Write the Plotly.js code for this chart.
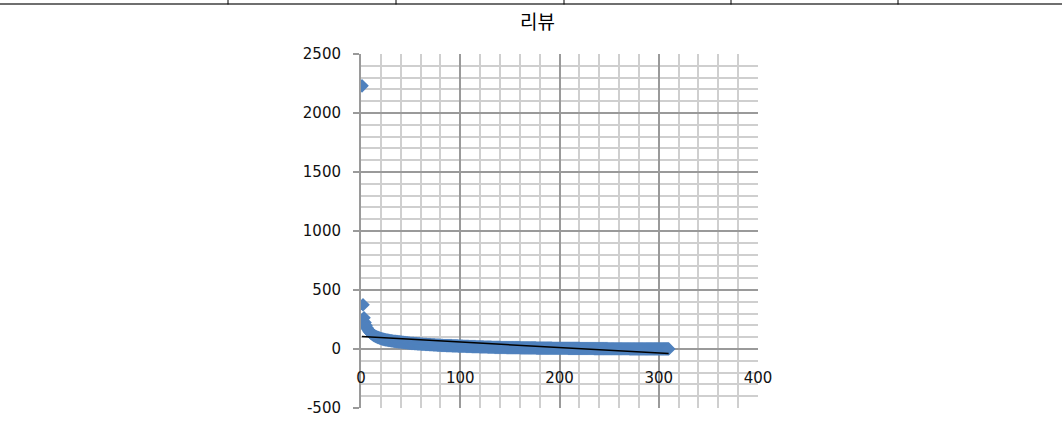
<!DOCTYPE html>
<html>
<head>
<meta charset="utf-8">
<script src="https://cdn.plot.ly/plotly-3.0.1.min.js"></script>
<style>
  html, body { margin: 0; padding: 0; background: #ffffff; }
  #chart { width: 1062px; height: 421px; }
</style>
</head>
<body>
<div id="chart"></div>
<script>
// Chart title and axis ticks
const chartTitle = "리뷰";
const xTickVals = [0, 100, 200, 300, 400];
const yTickVals = [-500, 0, 500, 1000, 1500, 2000, 2500];

// Review counts, sorted by rank (rank 1 .. 310)
const reviews = [
  2230, 375, 265,
  225, 200, 180, 165, 152, 142, 134, 127, 121, 115, 110, 106, 102, 98, 95, 92, 89,
  86, 84, 82, 80, 78, 76, 75, 73, 72, 70,
  69, 68, 66, 65, 64, 63, 62, 61, 60, 59,
  58, 57, 56, 55, 54, 53, 52, 51, 50, 49,
  48, 47, 47, 46, 45, 45, 44, 43, 43, 42,
  41, 41, 40, 40, 39, 39, 38, 38, 37, 37,
  36, 36, 35, 35, 34, 34, 33, 33, 32, 32,
  31, 31, 30, 30, 30, 29, 29, 29, 28, 28,
  28, 27, 27, 27, 26, 26, 26, 25, 25, 25,
  24, 24, 23, 23, 23, 22, 22, 22, 21, 21,
  21, 20, 20, 20, 20, 19, 19, 19, 19, 18,
  18, 18, 18, 17, 17, 17, 17, 16, 16, 16,
  16, 15, 15, 15,
  14, 14, 14, 14, 14, 14, 13, 13, 13, 13,
  13, 13, 12, 12, 12, 12, 12, 12, 12, 11,
  11, 11, 11, 11, 11, 11, 10, 10, 10, 10,
  10, 10, 10, 10, 9, 9, 9, 9, 9, 9,
  9, 9, 8, 8, 8, 8, 8, 8, 8, 8,
  7, 7, 7, 7, 7, 7, 7, 7, 6, 6,
  6, 6, 6, 6, 6, 6,
  6, 6, 6, 6, 6, 6, 6, 6, 5, 5,
  5, 5, 5, 5, 5, 5, 5, 5, 5, 5,
  4, 4, 4, 4, 4, 4, 4, 4, 4, 4,
  4, 4, 4, 4, 3, 3, 3, 3, 3, 3,
  3, 3, 3, 3, 3, 3, 3, 3, 2, 2,
  2, 2, 2, 2, 2, 2, 2, 2, 2, 2,
  2, 2, 2, 2, 2, 2, 2, 2, 2, 2,
  1, 1, 1, 1, 1, 1, 1, 1, 1, 1,
  1, 1, 1, 1, 1, 1, 1, 1, 1, 1,
  1, 1, 1, 1, 1, 1, 1, 1, 1, 1,
  1, 1, 1, 1, 1, 1, 1, 1, 1, 1
];
// rank of each entry (1-based position in the sorted list)
const ranks = reviews.map((_, i) => i + 1);

// Linear trend line (least squares) computed from the data
function linearFit(xs, ys) {
  const n = xs.length;
  const mx = xs.reduce((a, b) => a + b, 0) / n;
  const my = ys.reduce((a, b) => a + b, 0) / n;
  let sxy = 0, sxx = 0;
  for (let i = 0; i < n; i++) { sxy += (xs[i] - mx) * (ys[i] - my); sxx += (xs[i] - mx) ** 2; }
  const slope = sxy / sxx;
  return { slope, intercept: my - slope * mx };
}
const fit = linearFit(ranks, reviews);
const trendX = [ranks[0], ranks[ranks.length - 1]];
const trendY = trendX.map(x => fit.intercept + fit.slope * x);

// Layout geometry (pixels)
const W = 1062, H = 421;
const L = 361, R = 758, T = 54, B = 408;
const px2x = p => (p - L) / (R - L);
const px2y = p => (B - p) / (B - T);

const tickFont = { family: "DejaVu Sans, Verdana, sans-serif", size: 15, color: "#111111" };

const traces = [
  {
    type: "scatter", mode: "markers", x: ranks, y: reviews,
    marker: { symbol: "diamond", size: 10.5, color: "#4F81BD", line: { width: 0 } },
    hoverinfo: "x+y", showlegend: false
  },
  {
    type: "scatter", mode: "lines", x: trendX, y: trendY,
    line: { color: "#000000", width: 1.5 }, hoverinfo: "skip", showlegend: false
  }
];

// top table border lines
const colEdges = [228, 396, 564, 731, 898];
const shapes = [
  { type: "line", xref: "paper", yref: "paper", x0: px2x(0), x1: px2x(W), y0: px2y(4), y1: px2y(4),
    line: { color: "#6f6f6f", width: 2 } }
].concat(colEdges.map(p => ({
  type: "line", xref: "paper", yref: "paper", x0: px2x(p), x1: px2x(p), y0: px2y(0), y1: px2y(4.5),
  line: { color: "#000000", width: 1 }
})));

const majorGrid = "#9a9a9a", minorGrid = "#cfcfcf";

const layout = {
  width: W, height: H,
  margin: { l: L, r: W - R, t: T, b: H - B, pad: 0 },
  paper_bgcolor: "#ffffff", plot_bgcolor: "#ffffff",
  showlegend: false,
  xaxis: {
    range: [0, 400], tickvals: xTickVals, ticktext: xTickVals.map(String),
    anchor: "free", position: 500 / 3000,
    showline: false, zeroline: false,
    ticks: "", ticklabelstandoff: 18,
    showgrid: true, gridcolor: majorGrid, gridwidth: 2,
    minor: { dtick: 20, tick0: 0, showgrid: true, gridcolor: minorGrid, gridwidth: 2, ticks: "" },
    tickfont: tickFont, fixedrange: true
  },
  yaxis: {
    range: [-500, 2500], tickvals: yTickVals, ticktext: yTickVals.map(String),
    showline: true, linecolor: majorGrid, linewidth: 2,
    zeroline: true, zerolinecolor: majorGrid, zerolinewidth: 2,
    ticks: "outside", ticklen: 6, tickcolor: majorGrid, tickwidth: 2, ticklabelstandoff: 9,
    showgrid: true, gridcolor: majorGrid, gridwidth: 2,
    minor: { dtick: 100, tick0: 0, showgrid: true, gridcolor: minorGrid, gridwidth: 2, ticks: "" },
    tickfont: tickFont, fixedrange: true
  },
  annotations: [
    { text: chartTitle, xref: "paper", yref: "paper", x: px2x(537), y: px2y(20),
      xanchor: "center", yanchor: "middle", showarrow: false,
      font: { family: "Noto Sans CJK KR, sans-serif", size: 19, color: "#000000" } }
  ],
  shapes: shapes
};

Plotly.newPlot("chart", traces, layout, { displayModeBar: false, staticPlot: true });
</script>
</body>
</html>
